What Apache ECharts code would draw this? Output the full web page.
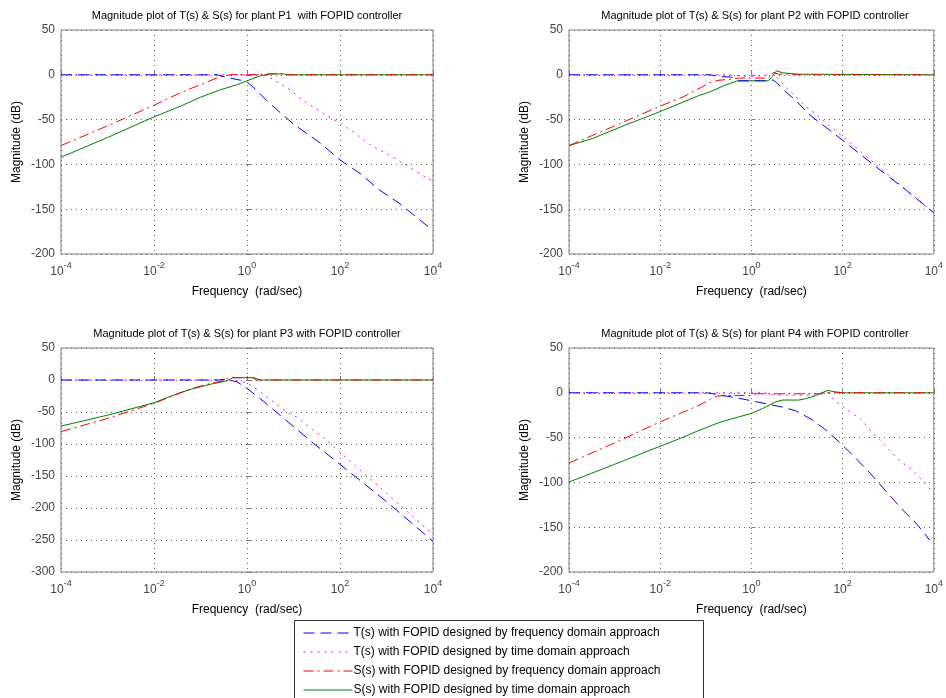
<!DOCTYPE html>
<html><head><meta charset="utf-8">
<script src="https://cdn.jsdelivr.net/npm/echarts@6/dist/echarts.min.js"></script>
<style>html,body{margin:0;padding:0;background:#fff}#c{width:946px;height:698px}</style>
</head><body><div id="c"></div>
<script>
// ---------- text ----------
const plotTitles = [
  'Magnitude plot of T(s) & S(s) for plant P1  with FOPID controller',
  'Magnitude plot of T(s) & S(s) for plant P2 with FOPID controller',
  'Magnitude plot of T(s) & S(s) for plant P3 with FOPID controller',
  'Magnitude plot of T(s) & S(s) for plant P4 with FOPID controller'
];
const seriesNames = [
  'T(s) with FOPID designed by frequency domain approach',
  'T(s) with FOPID designed by time domain approach',
  'S(s) with FOPID designed by frequency domain approach',
  'S(s) with FOPID designed by time domain approach'
];
const xAxisName = 'Frequency  (rad/sec)';
const yAxisName = 'Magnitude (dB)';
// x ticks: exponents of 10 (rad/sec)
const xTickExponents = [-4, -2, 0, 2, 4];
const yRanges = [[-200, 50], [-200, 50], [-300, 50], [-200, 50]];

// ---------- data: log10(frequency) and magnitude in dB ----------
// Plant P1
const p1_Tfreq_logw = [-4,-2,-0.64,-0.43,-0.14,0,0.18,0.43,0.71,1,1.57,2,2.43,2.86,3.29,3.86,4];
const p1_Tfreq_db   = [0,0,0,-3,-6,-8,-16,-29,-42,-55,-76,-95,-110,-129,-144,-168,-173];
const p1_Ttime_logw = [-4,0.29,0.43,0.61,0.86,1.14,1.43,1.71,2,2.29,2.64,3,3.43,3.86,4];
const p1_Ttime_db   = [0,0,-1,-6.7,-14,-26,-36,-45.5,-54,-64,-78,-88,-101,-115,-119];
const p1_Sfreq_logw = [-4,-3,-2,-1.64,-1.29,-0.93,-0.71,-0.57,-0.3,0,0.5,0.79,0.85,4];
const p1_Sfreq_db   = [-79,-57,-34,-25,-17,-9.6,-4.8,-2.2,0.5,0,1,1,0,0];
const p1_Stime_logw = [-4,-3,-2,-1.43,-1,-0.57,-0.21,0,0.29,0.5,0.79,0.85,4];
const p1_Stime_db   = [-92,-70,-47,-35,-25,-16.7,-11,-6.7,-1,1,1,0,0];
// Plant P2
const p2_Tfreq_logw = [-4,-0.9,-0.7,-0.45,-0.3,0.37,0.48,0.55,0.69,0.98,1.26,2,2.69,3.4,4];
const p2_Tfreq_db   = [0,0,-2,-2.5,-6.7,-6.7,-5.9,-8.5,-16,-29,-44,-73,-101,-129,-154];
const p2_Ttime_logw = [-4,-0.5,0,0.26,0.48,0.66,0.9,1.12,1.44,1.69,2.08,2.8,3.4,4];
const p2_Ttime_db   = [0,0,-2,-1,1.5,-8.5,-21,-32,-45,-56,-72,-103,-129,-154];
const p2_Sfreq_logw = [-4,-3,-2,-1.47,-1.1,-0.88,-0.7,-0.45,-0.3,0.37,0.48,0.6,0.98,1.05,4];
const p2_Sfreq_db   = [-79,-57,-35,-24,-14,-8,-6,-5,-3.7,-3.7,2.6,0.7,0.7,0,0];
const p2_Stime_logw = [-4,-3.48,-2.76,-2,-1.16,-0.88,-0.6,-0.3,0.37,0.44,0.55,0.69,0.98,1.02,4];
const p2_Stime_db   = [-79,-71,-56,-41,-23.3,-18.5,-12,-6.7,-6.7,-3,4.4,2.2,0.7,0,0];
// Plant P3
const p3_Tfreq_logw = [-4,-0.6,-0.45,-0.37,-0.22,0,0.35,0.71,1.07,1.43,1.78,2.14,3,4];
const p3_Tfreq_db   = [0,0,1.5,-0.5,-2.6,-13,-33,-55,-77,-99,-119,-140,-190,-252];
const p3_Ttime_logw = [-4,-0.3,-0.02,0.1,0.24,0.35,0.6,0.85,1.07,1.43,1.71,2,3,4];
const p3_Ttime_db   = [0,0,-4,-9,-16,-22,-36,-50,-58,-79,-94,-113,-177,-241];
const p3_Sfreq_logw = [-4,-3,-2,-1.2,-0.8,-0.5,-0.4,-0.2,0.12,0.2,4];
const p3_Sfreq_db   = [-80.7,-60,-36.5,-13.5,-5.7,-1,3.6,3.6,3.6,0,0];
const p3_Stime_logw = [-4,-3,-2,-1.44,-1.2,-0.73,-0.44,-0.3,0.15,0.28,4];
const p3_Stime_db   = [-72,-55,-35.5,-19.8,-14.5,-5.7,-1.5,3.6,3.6,0,0];
// Plant P4
const p4_Tfreq_logw = [-4,-0.97,-0.68,-0.32,0.04,0.39,0.68,0.97,1.33,1.61,1.9,2.26,2.62,2.97,3.33,3.62,3.91];
const p4_Tfreq_db   = [0,0,-2.6,-5.6,-9.3,-13,-16,-20,-30,-40.7,-53.7,-71.5,-90.7,-111,-131.5,-146,-164.5];
const p4_Ttime_logw = [-4,0.3,0.5,1.5,1.55,1.68,1.83,2.04,2.19,2.4,2.65,2.8,3.01,3.26,3.5,3.7,4];
const p4_Ttime_db   = [0,0,-2.6,-2.6,-1,0,-9,-16.7,-22,-29.6,-44.4,-52,-63,-76,-85,-95,-112];
const p4_Sfreq_logw = [-4,-3,-2.04,-1.61,-1.18,-0.9,-0.75,-0.6,0,0.1,1.5,1.6,1.9,2,4];
const p4_Sfreq_db   = [-78.3,-56,-33.3,-24,-14.8,-7.4,-3.7,-3,-3,-1.1,-1.1,0,0.7,0,0];
const p4_Stime_logw = [-4,-3,-2.04,-1.61,-1.18,-0.75,-0.47,0,0.25,0.54,0.68,1.04,1.18,1.4,1.54,1.68,1.83,1.97,4];
const p4_Stime_db   = [-99.6,-79.8,-60.4,-51.9,-42.6,-34,-29.6,-23,-17.4,-10,-8.1,-8.1,-6.7,-3.3,0,2.6,1.1,0,0];

const plots = [
  [[p1_Tfreq_logw,p1_Tfreq_db],[p1_Ttime_logw,p1_Ttime_db],[p1_Sfreq_logw,p1_Sfreq_db],[p1_Stime_logw,p1_Stime_db]],
  [[p2_Tfreq_logw,p2_Tfreq_db],[p2_Ttime_logw,p2_Ttime_db],[p2_Sfreq_logw,p2_Sfreq_db],[p2_Stime_logw,p2_Stime_db]],
  [[p3_Tfreq_logw,p3_Tfreq_db],[p3_Ttime_logw,p3_Ttime_db],[p3_Sfreq_logw,p3_Sfreq_db],[p3_Stime_logw,p3_Stime_db]],
  [[p4_Tfreq_logw,p4_Tfreq_db],[p4_Ttime_logw,p4_Ttime_db],[p4_Sfreq_logw,p4_Sfreq_db],[p4_Stime_logw,p4_Stime_db]]
];

// ---------- styles & layout ----------
const FONT = '"Liberation Sans", Arial, sans-serif';
const lineStyles = [
  {color:'#0000ff', type:[11,6]},
  {color:'#ff00ff', type:[2,5]},
  {color:'#ff0000', type:[10,4,2,4]},
  {color:'#008000', type:'solid'}
];
const gridBoxes = [
  {left:61, top:30, width:372, height:224},
  {left:569, top:30, width:372, height:224},
  {left:61, top:348, width:372, height:224},
  {left:569, top:348, width:372, height:224}
];

const grid = [], xAxis = [], yAxis = [], series = [], title = [];
gridBoxes.forEach((g, i) => {
  grid.push(Object.assign({show:true, borderColor:'#7f7f7f', borderWidth:1, backgroundColor:'#fff'}, g));
  title.push({
    text: plotTitles[i], left: g.left + g.width/2, top: g.top - 20, textAlign:'center', padding:0,
    textStyle:{fontFamily:FONT, fontSize:11, fontWeight:'normal', color:'#000'}
  });
  xAxis.push({
    type:'value', gridIndex:i, min:xTickExponents[0], max:xTickExponents[xTickExponents.length-1], interval:2,
    name:xAxisName, nameLocation:'middle', nameGap:32,
    nameTextStyle:{fontFamily:FONT, fontSize:12, color:'#000'},
    axisLine:{show:false}, axisTick:{show:true, inside:true, length:4, lineStyle:{color:'#7f7f7f'}},
    splitLine:{show:true, lineStyle:{color:'#666', type:[1,4], width:1}},
    axisLabel:{
      margin:7, fontFamily:FONT, color:'#444',
      formatter: v => '{b|10}{s|' + v + '}',
      rich:{ b:{fontSize:12, fontFamily:FONT, color:'#444', lineHeight:22, verticalAlign:'middle'},
             s:{fontSize:9, fontFamily:FONT, color:'#444', lineHeight:10, verticalAlign:'top'} }
    }
  });
  yAxis.push({
    type:'value', gridIndex:i, min:yRanges[i][0], max:yRanges[i][1], interval:50,
    name:yAxisName, nameLocation:'middle', nameGap:38, nameRotate:90,
    nameTextStyle:{fontFamily:FONT, fontSize:12, color:'#000'},
    axisLine:{show:false}, axisTick:{show:true, inside:true, length:4, lineStyle:{color:'#7f7f7f'}},
    splitLine:{show:true, lineStyle:{color:'#666', type:[1,4], width:1}},
    axisLabel:{margin:6, fontFamily:FONT, fontSize:12, color:'#444'}
  });
  plots[i].forEach((pair, k) => {
    const [xs, ys] = pair;
    series.push({
      type:'line', name:seriesNames[k], xAxisIndex:i, yAxisIndex:i,
      data: xs.map((x, j) => [x, ys[j]]),
      symbol:'none', showSymbol:false, silent:true, animation:false, clip:true,
      lineStyle:{color:lineStyles[k].color, type:lineStyles[k].type, width:1},
      itemStyle:{color:lineStyles[k].color},
      z: 10 - k
    });
  });
});

const chart = echarts.init(document.getElementById('c'), null, {renderer:'canvas'});
chart.setOption({
  backgroundColor:'#fff',
  animation:false,
  title, grid, xAxis, yAxis, series,
  legend:{
    data: seriesNames, orient:'vertical', left:303, top:626,
    itemWidth:49, itemHeight:14, itemGap:5, padding:0,
    itemStyle:{opacity:0},
    lineStyle:{width:1},
    textStyle:{fontFamily:FONT, fontSize:12, color:'#000', padding:[0,0,0,-4], lineHeight:14},
    selectedMode:false
  },
  graphic:[{type:'rect', shape:{x:294.5, y:620.5, width:409, height:100}, style:{fill:'none', stroke:'#333', lineWidth:1}, z:-1}]
});
</script>
</body></html>
